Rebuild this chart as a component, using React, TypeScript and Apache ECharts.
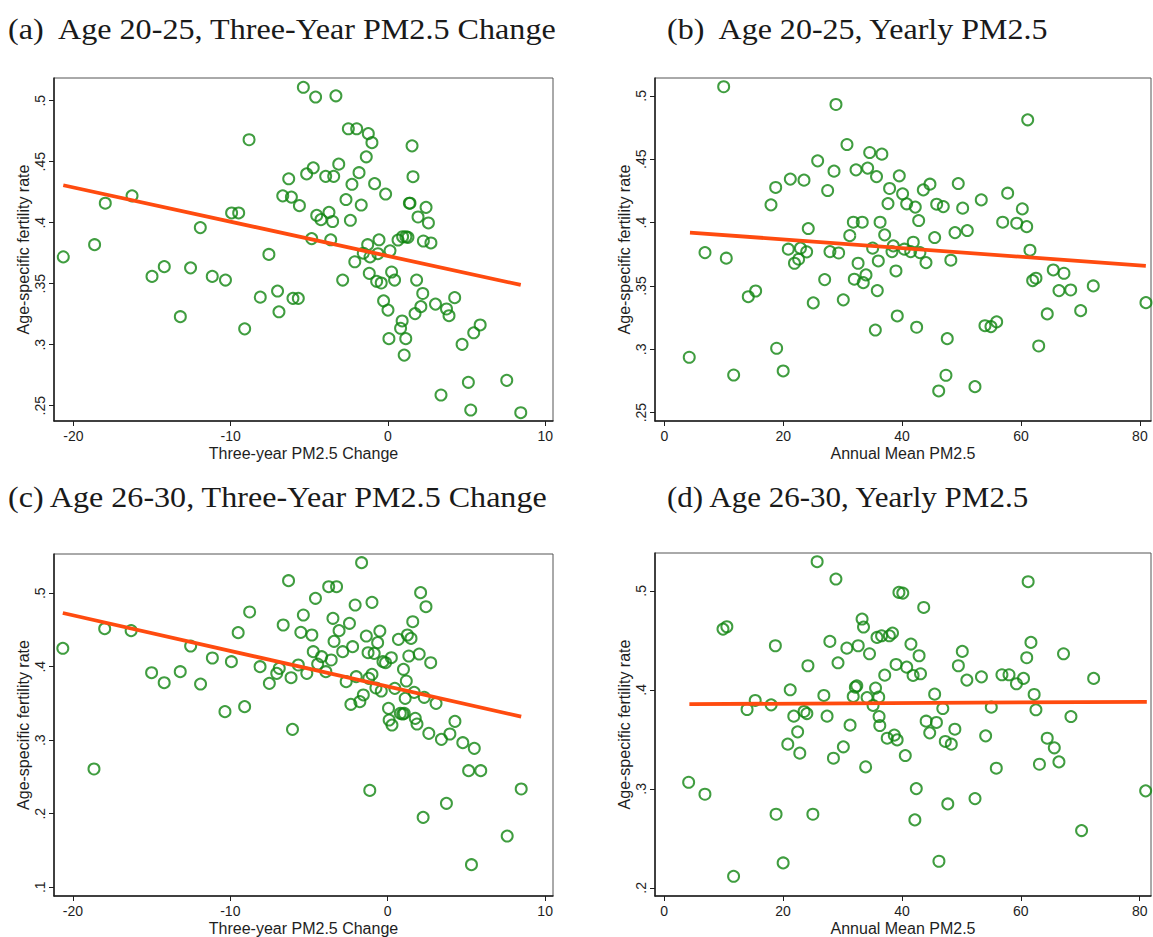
import React, { useEffect, useRef } from 'react';
import * as echarts from 'echarts';

// ---------- tick values ----------
const xTicksChange = [-20, -10, 0, 10];
const xTicksAnnual = [0, 20, 40, 60, 80];
const yTicksTop = [0.25, 0.3, 0.35, 0.4, 0.45, 0.5];
const yTicksC = [0.1, 0.2, 0.3, 0.4, 0.5];
const yTicksD = [0.2, 0.3, 0.4, 0.5];

// ---------- titles ----------
const titles = [
  '(a)\u00a0 Age 20-25, Three-Year PM2.5 Change',
  '(b)\u00a0 Age 20-25, Yearly PM2.5',
  '(c) Age 26-30, Three-Year PM2.5 Change',
  '(d) Age 26-30, Yearly PM2.5',
];
const yTitle = 'Age-specific fertility rate';
const xTitleChange = 'Three-year PM2.5 Change';
const xTitleAnnual = 'Annual Mean PM2.5';

// ---------- data: (a) age 20-25 vs three-year change ----------
const pointsA = [
  [-20.64, 0.372], [-18.65, 0.382], [-17.97, 0.416], [-16.27, 0.422], [-15.0, 0.356],
  [-14.22, 0.364], [-13.2, 0.323], [-12.55, 0.363], [-11.93, 0.396], [-11.17, 0.356],
  [-10.33, 0.353], [-9.94, 0.408], [-9.49, 0.408], [-9.11, 0.313], [-8.83, 0.468],
  [-8.12, 0.339], [-7.57, 0.374], [-7.02, 0.344], [-6.93, 0.327], [-6.69, 0.422],
  [-6.31, 0.436], [-6.14, 0.421], [-6.04, 0.338], [-5.7, 0.338], [-5.63, 0.414],
  [-5.38, 0.511], [-5.17, 0.44], [-4.75, 0.445], [-4.6, 0.503], [-4.85, 0.387],
  [-4.53, 0.406], [-4.26, 0.4025], [-3.96, 0.438], [-3.75, 0.4085], [-3.64, 0.386],
  [-3.52, 0.401], [-3.45, 0.438], [-3.31, 0.504], [-3.13, 0.448], [-2.88, 0.353],
  [-2.67, 0.419], [-2.52, 0.477], [-2.39, 0.402], [-2.29, 0.4315], [-2.11, 0.368],
  [-1.99, 0.477], [-1.84, 0.441], [-1.7, 0.4145], [-1.57, 0.375], [-1.38, 0.454],
  [-1.29, 0.382], [-1.25, 0.473], [-1.19, 0.3585], [-1.14, 0.372], [-1.02, 0.4656],
  [-0.85, 0.432], [-0.72, 0.352], [-0.64, 0.3746], [-0.57, 0.386], [-0.43, 0.3506],
  [-0.28, 0.336], [-0.15, 0.4235], [0.0, 0.3284], [0.06, 0.305], [0.13, 0.377],
  [0.23, 0.3596], [0.42, 0.353], [0.64, 0.3858], [0.8, 0.3135], [0.9, 0.3195],
  [0.93, 0.3885], [1.03, 0.2915], [1.13, 0.305], [1.14, 0.3885], [1.27, 0.388],
  [1.36, 0.416], [1.4, 0.416], [1.53, 0.463], [1.59, 0.4377], [1.72, 0.3255],
  [1.82, 0.353], [1.91, 0.4047], [2.09, 0.3312], [2.21, 0.342], [2.25, 0.385],
  [2.42, 0.4126], [2.57, 0.3998], [2.73, 0.3834], [3.02, 0.3333], [3.37, 0.2588],
  [3.72, 0.3293], [3.88, 0.3238], [4.24, 0.3386], [4.71, 0.3003], [5.11, 0.2692],
  [5.26, 0.2465], [5.45, 0.3098], [5.86, 0.3162], [7.55, 0.2708], [8.44, 0.2443],
];
const fitA = [[-20.64, 0.4307], [8.44, 0.349]];

// ---------- data: (b) age 20-25 vs annual mean ----------
const pointsB = [
  [4.2, 0.2937], [6.85, 0.3763], [9.99, 0.5072], [10.43, 0.3719], [11.67, 0.2797],
  [14.13, 0.3415], [15.37, 0.346], [17.95, 0.414], [18.74, 0.4277], [18.9, 0.3008],
  [20.0, 0.2829], [20.86, 0.379], [21.2, 0.4343], [21.9, 0.3679], [22.6, 0.3711],
  [22.9, 0.3798], [23.5, 0.4335], [23.95, 0.3769], [24.22, 0.3953], [25.06, 0.3366],
  [25.8, 0.4487], [26.98, 0.355], [27.48, 0.4253], [27.87, 0.3771], [28.55, 0.4406],
  [28.88, 0.4932], [29.33, 0.376], [30.11, 0.339], [30.73, 0.4616], [31.2, 0.3897],
  [31.8, 0.4003], [31.96, 0.3553], [32.25, 0.4416], [32.6, 0.3679], [33.3, 0.4003],
  [33.47, 0.3526], [33.93, 0.3587], [34.21, 0.443], [34.55, 0.4553], [35.05, 0.3798],
  [35.5, 0.3152], [35.7, 0.4363], [35.83, 0.3463], [36.0, 0.3697], [36.3, 0.4003],
  [36.6, 0.454], [37.07, 0.3903], [37.63, 0.415], [37.9, 0.4269], [38.3, 0.3771],
  [38.52, 0.3816], [38.97, 0.3618], [39.19, 0.3263], [39.53, 0.4369], [40.09, 0.4227],
  [40.37, 0.379], [40.77, 0.4148], [41.45, 0.3771], [41.88, 0.3845], [42.22, 0.4122],
  [42.45, 0.3174], [42.79, 0.4016], [43.0, 0.3763], [43.57, 0.4258], [44.02, 0.3684],
  [44.69, 0.4303], [45.48, 0.3882], [45.82, 0.4145], [46.16, 0.2671], [46.93, 0.4126],
  [47.38, 0.2795], [47.6, 0.3084], [48.2, 0.3703], [48.9, 0.3921], [49.45, 0.4308],
  [50.19, 0.4114], [50.97, 0.3937], [52.26, 0.2705], [53.32, 0.4179], [53.94, 0.3186],
  [54.95, 0.3179], [55.91, 0.3216], [56.92, 0.4003], [57.76, 0.4232], [59.28, 0.3995],
  [60.22, 0.4108], [60.96, 0.3968], [61.13, 0.4811], [61.51, 0.3782], [61.96, 0.3542],
  [62.52, 0.3561], [62.98, 0.3026], [64.42, 0.3279], [65.43, 0.3626], [66.39, 0.3463],
  [67.23, 0.36], [68.36, 0.3468], [70.04, 0.3305], [72.16, 0.35], [81.02, 0.3368],
];
const fitB = [[4.32, 0.3921], [81.0, 0.3658]];

// ---------- data: (c) age 26-30 vs three-year change ----------
const pointsC = [
  [-20.64, 0.425], [-18.66, 0.2608], [-17.98, 0.4517], [-16.3, 0.449], [-15.0, 0.3918],
  [-14.2, 0.3782], [-13.18, 0.3932], [-12.52, 0.4281], [-11.89, 0.3764], [-11.14, 0.4118],
  [-10.34, 0.3388], [-9.93, 0.4068], [-9.5, 0.4463], [-9.09, 0.3456], [-8.77, 0.4744],
  [-8.11, 0.4], [-7.52, 0.3773], [-7.05, 0.3909], [-6.89, 0.3977], [-6.64, 0.4567],
  [-6.3, 0.517], [-6.14, 0.385], [-6.05, 0.3147], [-5.68, 0.4023], [-5.52, 0.4467],
  [-5.36, 0.4703], [-5.14, 0.3909], [-4.82, 0.4431], [-4.73, 0.4204], [-4.59, 0.493],
  [-4.45, 0.4036], [-4.2, 0.4136], [-3.93, 0.3932], [-3.75, 0.5088], [-3.59, 0.4091],
  [-3.48, 0.4658], [-3.41, 0.4345], [-3.25, 0.5088], [-3.09, 0.449], [-2.86, 0.4204],
  [-2.64, 0.3796], [-2.43, 0.459], [-2.34, 0.3488], [-2.23, 0.4272], [-2.07, 0.4839],
  [-2.0, 0.3864], [-1.77, 0.3524], [-1.66, 0.5415], [-1.55, 0.3615], [-1.36, 0.4417],
  [-1.25, 0.419], [-1.2, 0.3841], [-1.14, 0.2317], [-1.0, 0.4875], [-1.0, 0.3896],
  [-0.86, 0.4181], [-0.75, 0.371], [-0.64, 0.4327], [-0.5, 0.4485], [-0.41, 0.3669],
  [-0.3, 0.4068], [-0.14, 0.4054], [0.05, 0.3433], [0.09, 0.3274], [0.23, 0.4122],
  [0.27, 0.3206], [0.45, 0.3705], [0.68, 0.4372], [0.8, 0.3365], [0.95, 0.3356],
  [1.05, 0.3365], [1.0, 0.3964], [1.11, 0.3569], [1.18, 0.3805], [1.25, 0.4431],
  [1.34, 0.4145], [1.48, 0.4385], [1.59, 0.4612], [1.68, 0.3651], [1.75, 0.3297],
  [1.86, 0.322], [2.0, 0.4172], [2.09, 0.5007], [2.25, 0.195], [2.32, 0.3583],
  [2.43, 0.4816], [2.61, 0.3093], [2.73, 0.4054], [3.07, 0.3501], [3.41, 0.3011],
  [3.73, 0.2141], [3.95, 0.3084], [4.27, 0.3256], [4.77, 0.2966], [5.14, 0.2585],
  [5.32, 0.1306], [5.5, 0.2889], [5.91, 0.2585], [7.59, 0.1696], [8.48, 0.2336],
];
const fitC = [[-20.64, 0.473], [8.48, 0.332]];

// ---------- data: (d) age 26-30 vs annual mean ----------
const pointsD = [
  [4.11, 0.3066], [6.85, 0.2945], [9.89, 0.4613], [10.54, 0.4637], [11.67, 0.2116],
  [13.94, 0.3801], [15.31, 0.3892], [17.99, 0.3848], [18.7, 0.4445], [18.82, 0.2743],
  [20.01, 0.2251], [20.79, 0.3451], [21.2, 0.4], [21.8, 0.3734], [22.45, 0.3575],
  [22.81, 0.336], [23.53, 0.3781], [24.0, 0.376], [24.18, 0.4243], [25.01, 0.2743],
  [25.73, 0.5294], [26.86, 0.3943], [27.4, 0.3734], [27.87, 0.4489], [28.47, 0.3309],
  [28.89, 0.5119], [29.24, 0.4273], [30.14, 0.3424], [30.73, 0.4421], [31.27, 0.3643],
  [31.8, 0.3933], [32.16, 0.4027], [32.4, 0.404], [32.64, 0.4445], [33.29, 0.4715],
  [33.53, 0.4634], [33.89, 0.3221], [34.13, 0.3922], [34.54, 0.4364], [35.14, 0.3842],
  [35.56, 0.4017], [35.8, 0.4529], [36.57, 0.4546], [36.09, 0.3926], [36.15, 0.373],
  [36.27, 0.3639], [37.1, 0.4148], [37.52, 0.3511], [37.88, 0.4546], [38.41, 0.4573],
  [38.71, 0.3542], [39.19, 0.3494], [39.01, 0.4256], [39.49, 0.4984], [40.14, 0.4977],
  [40.56, 0.3336], [40.8, 0.4229], [41.51, 0.4462], [41.87, 0.4145], [42.17, 0.2686],
  [42.41, 0.3002], [42.88, 0.4344], [43.12, 0.4162], [43.66, 0.4832], [44.07, 0.3683],
  [44.67, 0.3565], [45.5, 0.3956], [45.8, 0.367], [46.22, 0.2268], [46.87, 0.3811],
  [47.29, 0.3478], [47.71, 0.2847], [48.3, 0.3451], [48.9, 0.3602], [49.49, 0.4243],
  [50.15, 0.4388], [50.92, 0.4098], [52.29, 0.2901], [53.37, 0.4131], [54.08, 0.3535],
  [55.03, 0.3825], [55.87, 0.3208], [56.82, 0.4152], [58.01, 0.4152], [59.26, 0.4061],
  [60.45, 0.4115], [60.99, 0.4324], [61.23, 0.5092], [61.7, 0.4479], [62.24, 0.3953],
  [62.54, 0.3798], [63.13, 0.3248], [64.44, 0.3511], [65.63, 0.3414], [66.41, 0.3272],
  [67.18, 0.4364], [68.43, 0.373], [70.22, 0.2578], [72.25, 0.4115], [81.0, 0.2979],
];
const fitD = [[4.23, 0.3855], [81.2, 0.3879]];

// ---------- layout ----------
const panels = [
  { grid: { left: 54, top: 78, width: 499, height: 343 }, x: [-21.23, 10.49], y: [0.2375, 0.5186], xt: xTicksChange, yt: yTicksTop, xn: xTitleChange, pts: pointsA, fit: fitA },
  { grid: { left: 655, top: 78, width: 496, height: 343 }, x: [-1.56, 81.87], y: [0.2434, 0.5141], xt: xTicksAnnual, yt: yTicksTop, xn: xTitleAnnual, pts: pointsB, fit: fitB },
  { grid: { left: 54, top: 554, width: 499, height: 342 }, x: [-21.2, 10.5], y: [0.088, 0.5533], xt: xTicksChange, yt: yTicksC, xn: xTitleChange, pts: pointsC, fit: fitC },
  { grid: { left: 655, top: 553, width: 496, height: 343 }, x: [-1.55, 81.9], y: [0.1917, 0.5382], xt: xTicksAnnual, yt: yTicksD, xn: xTitleAnnual, pts: pointsD, fit: fitD },
];
const titlePos = [[8, 29], [667, 29], [8, 497], [667, 497]];
const titleScaleX = [1.072, 1.067, 1.07, 1.035];

const SANS = '"Liberation Sans", Arial, sans-serif';
const SERIF = '"Liberation Serif", "Times New Roman", serif';
const INK = '#1e1e1e';
const GREEN = '#108510';
const ORANGE = '#ff4b0f';

const fmtY = (v: number) => String(v).replace(/^0\./, '.');

export default function App() {
  const ref = useRef<HTMLDivElement>(null);
  useEffect(() => {
    document.body.style.margin = '0';
    if (!ref.current) return;
    const chart = echarts.init(ref.current, undefined, { renderer: 'svg' });
    const option: any = {
      animation: false,
      backgroundColor: '#ffffff',
      grid: panels.map((p) => ({ ...p.grid, show: true, borderColor: '#555', borderWidth: 1, containLabel: false })),
      xAxis: panels.map((p, i) => ({
        type: 'value', gridIndex: i, min: p.x[0], max: p.x[1],
        name: p.xn, nameLocation: 'middle', nameGap: 24,
        nameTextStyle: { fontFamily: SANS, fontSize: 16, color: INK },
        axisLine: { show: true, onZero: false, lineStyle: { color: INK, width: 1.5 } },
        axisTick: { show: true, length: 5, customValues: p.xt, lineStyle: { color: INK, width: 1 } },
        axisLabel: { customValues: p.xt, margin: 8, fontFamily: SANS, fontSize: 14, color: INK, formatter: (v: number) => String(v) },
        splitLine: { show: false },
      })),
      yAxis: panels.map((p, i) => ({
        type: 'value', gridIndex: i, min: p.y[0], max: p.y[1],
        name: yTitle, nameLocation: 'middle', nameGap: 23, nameRotate: 90,
        nameTextStyle: { fontFamily: SANS, fontSize: 16, color: INK },
        axisLine: { show: true, onZero: false, lineStyle: { color: INK, width: 1.5 } },
        axisTick: { show: true, length: 5, customValues: p.yt, lineStyle: { color: INK, width: 1 } },
        axisLabel: { customValues: p.yt, rotate: 90, margin: 7, fontFamily: SANS, fontSize: 14, color: INK, formatter: fmtY },
        splitLine: { show: false },
      })),
      series: panels.flatMap((p, i) => [
        {
          type: 'scatter', xAxisIndex: i, yAxisIndex: i, data: p.pts,
          symbol: 'circle', symbolSize: 11,
          itemStyle: { color: 'rgba(0,0,0,0)', borderColor: GREEN, borderWidth: 2 },
          z: 2,
        },
        {
          type: 'line', xAxisIndex: i, yAxisIndex: i, data: p.fit,
          showSymbol: false, symbol: 'none',
          lineStyle: { color: ORANGE, width: 3.8 },
          z: 3,
        },
      ]),
      graphic: titles.map((t, i) => ({
        type: 'text', x: titlePos[i][0], y: titlePos[i][1], scaleX: titleScaleX[i],
        style: { text: t, fontFamily: SERIF, fontSize: 30, fill: '#1a1a1a', verticalAlign: 'middle', align: 'left' },
      })),
    };
    chart.setOption(option);
    return () => chart.dispose();
  }, []);
  return <div ref={ref} style={{ width: 1153, height: 937 }} />;
}
